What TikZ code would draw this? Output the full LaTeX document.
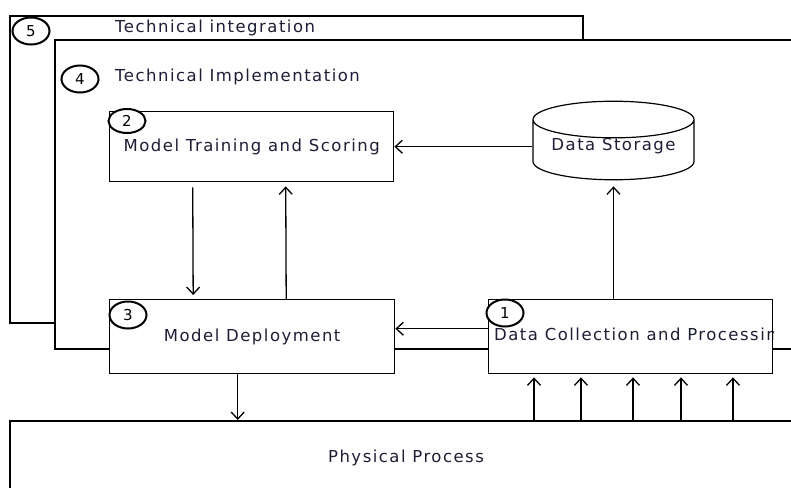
\documentclass[tikz,border=0pt]{standalone}
\usepackage{fontspec}
\setmainfont{DejaVu Sans}[LetterSpace=9, Ligatures=NoCommon]
\usetikzlibrary{arrows.meta,shapes.geometric}
\definecolor{txt}{RGB}{30,30,55}

\begin{document}
\begin{tikzpicture}[x=1pt, y=-1pt,
    layer/.style={rectangle, draw, line width=2.4pt, fill=white, inner sep=0pt, anchor=north west},
    blk/.style={rectangle, draw, line width=1.4pt, fill=white, inner sep=0pt, anchor=north west, text=txt, font=\fontsize{16.5}{20}\selectfont},
    tag/.style={ellipse, draw, line width=2pt, fill=white, inner sep=0pt, minimum width=37pt, minimum height=27pt, font=\fontsize{15}{17}\selectfont},
    lbl/.style={text=txt, font=\fontsize{16.5}{20}\selectfont, inner sep=0pt},
    flow/.style={-{Straight Barb[length=7pt,width=13pt]}, line width=1.3pt}]
    \useasboundingbox (0,0) rectangle (791,487);
    \clip (0,0) rectangle (791,487);
    \node[layer, minimum width=573pt, minimum height=307pt] (tint) at (9,15) {};
    \node[layer, minimum width=800pt, minimum height=309pt] (timp) at (54,39) {};
    \node[layer, minimum width=820pt, minimum height=120pt] (phys) at (9,420) {};
    \node[lbl, anchor=west] (tintlbl) at (115,28) {Technical integration};
    \node[lbl, anchor=west] (timplbl) at (115,77) {Technical Implementation};
    \node[lbl] (physlbl) at (406,458) {Physical Process};
    \node[blk, minimum width=284pt, minimum height=70pt] (mts) at (109,111) {Model Training and Scoring};
    \node[blk, minimum width=285pt, minimum height=74pt] (mdep) at (109,299) {Model Deployment};
    \node[blk, minimum width=284pt, minimum height=74pt] (dcp) at (488,299) {};
    \begin{scope}
        \clip (dcp.south west) rectangle (dcp.north east);
        \node[lbl, anchor=west] (dcplbl) at (494,336) {Data Collection and Processing};
    \end{scope}
    \node[cylinder, shape border rotate=90, aspect=0.28, draw, line width=1.2pt, fill=white, anchor=shape center,
        minimum width=161pt, minimum height=75pt, inner ysep=0pt, text depth=16pt, text=txt, font=\fontsize{16.5}{20}\selectfont] (ds) at (613.5,140.5) {Data Storage};
    \node[tag] (n5) at (31,31) {5};
    \node[tag] (n4) at (80,79) {4};
    \node[tag, minimum height=24pt] (n2) at (127,121) {2};
    \node[tag] (n3) at (128,315) {3};
    \node[tag] (n1) at (505,313) {1};
    \draw[flow] (mts.east -| ds.west) -- (mts.east);
    \draw[flow, shorten <=5pt, shorten >=4pt] ([xshift=-59pt]mts.south) -- ([xshift=-59pt]mdep.north);
    \draw[flow, shorten >=4pt] ([xshift=34pt]mdep.north) -- ([xshift=34pt]mts.south);
    \draw[flow, shorten >=6pt] (ds.south |- dcp.north) -- (ds.south);
    \draw[flow] ([yshift=8pt]dcp.west) -- ([yshift=8pt]mdep.east);
    \coordinate (dn) at ([xshift=-14.5pt]mdep.south);
    \draw[flow] (dn) -- (dn |- phys.north);
    \foreach \x [count=\i] in {534,581,633,681,733} {
        \coordinate (in\i) at (\x,420);
        \draw[flow, shorten >=3pt] (in\i) -- (in\i |- dcp.south);
    }
\end{tikzpicture}
\end{document}
